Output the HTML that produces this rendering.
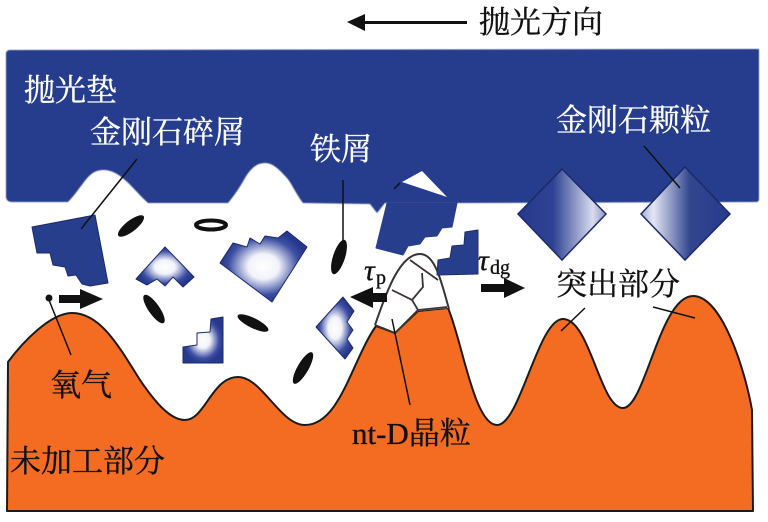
<!DOCTYPE html>
<html><head><meta charset="utf-8">
<style>
html,body{margin:0;padding:0;background:#fff}
svg{display:block}
text{font-family:"Liberation Serif","Noto Serif CJK SC",serif;font-size:31px;stroke-width:.35px}
</style></head><body>
<svg width="768" height="522" viewBox="0 0 768 522" xmlns="http://www.w3.org/2000/svg">
<defs>
<radialGradient id="g1"><stop offset="0" stop-color="#fff"/><stop offset=".35" stop-color="#f2f3fa"/><stop offset=".8" stop-color="#3d4fa3"/><stop offset="1" stop-color="#26398c"/></radialGradient>
<linearGradient id="gR" x1="0" x2="1" y1="0" y2="0"><stop offset="0" stop-color="#26398c"/><stop offset=".4" stop-color="#2f4292"/><stop offset=".85" stop-color="#d8dcee"/><stop offset="1" stop-color="#8b96c8"/></linearGradient>
<linearGradient id="gL" x1="0" x2="1" y1="0" y2="0"><stop offset="0" stop-color="#a9b1d6"/><stop offset=".14" stop-color="#e4e6f3"/><stop offset=".55" stop-color="#33468f"/><stop offset="1" stop-color="#26398c"/></linearGradient>
<filter id="b"><feGaussianBlur stdDeviation=".5"/></filter>
</defs>

<!-- polishing pad -->
<path filter="url(#b)" fill="#273e8d" d="M6 54Q6 50 10 50L759 49L759 199Q759 202 756 202L457 203L385 203L377 213L370 204L303 203C296 194 291 182 286 177C278 168 272 163 265 163C257 163 251 168 245 178C240 187 234 196 228 203L148 203C140 196 132 186 125 180C118 174 112 170 103 170C95 170 90 174 84 182C78 190 73 197 68 202L12 202Q6 202 6 196Z"/>
<path fill="#273e8d" stroke="#273e8d" stroke-width="1" stroke-linejoin="round" d="M387 203L457 203L452 227L442 228L437 236L425 237L420 244L408 246L403 255L376 248Z"/>
<path fill="#fff" d="M402 182L422 171L447 197Z"/>
<path stroke="#111" stroke-width="1.5" fill="none" d="M394 189L400 183"/>

<!-- orange workpiece -->
<path stroke="#1b1b1b" stroke-width="2" stroke-linejoin="round" fill="#f36c22" d="M8 362C22 343 50 313 72 313C100 313 118 345 140 380C155 402 170 420 185 420C205 420 212 377 238 377C262 377 280 425 305 425C340 425 352 360 376 326L395 333L418 311L448 308C462 340 474 425 497 425C520 425 538 319 563 319C590 319 600 408 623 408C645 408 660 296 693 296C722 296 745 370 752 410L753 511L7 511Z"/>

<!-- nt-D grains -->
<path fill="#fff" d="M376 326C384 300 398 254 420 254C436 254 442 285 448 308L418 311L396 333Z"/>
<g fill="none" stroke="#3a3434" stroke-width="1.8">
<path d="M375 325C384 300 398 254 420 254C436 254 442 285 449 309" stroke-width="2"/>
<path d="M410 260L438 280M392 290L412 300L418 310L447 307M412 300L423 287L422 273M375 325L395 333L418 310" />
</g>

<!-- diamond grains in pad -->
<path stroke="#1c2a6b" stroke-width="1.5" fill="url(#gR)" d="M562 169L606 214L562 260L518 214Z"/>
<path stroke="#1c2a6b" stroke-width="1.5" fill="url(#gL)" d="M685 167L730 214L685 260L641 214Z"/>

<!-- diamond debris -->
<path stroke="#1c2a6b" stroke-width="1" stroke-linejoin="round" fill="#273e8d" d="M32 227L95 215L108 283L90 286L82 284L76 275L68 276L65 267L53 265L50 253L37 253Z"/>
<path stroke="#1c2a6b" stroke-width="1" stroke-linejoin="round" fill="url(#g1)" d="M165 247L194 277L183 287L173 277L165 286L157 279L147 285L136 279Z"/>
<path stroke="#1c2a6b" stroke-width="1" stroke-linejoin="round" fill="url(#g1)" d="M287 231L307 247L272 302L220 263L233 243L247 247L250 238L260 244L265 236L278 238Z"/>
<path stroke="#1c2a6b" stroke-width="1" stroke-linejoin="round" fill="url(#g1)" d="M183 347L197 345V333L210 332L211 319L223 317V363H183Z"/>
<path stroke="#1c2a6b" stroke-width="1" stroke-linejoin="round" fill="url(#g1)" d="M343 297L354 311L347 322L353 330L347 339L353 348L345 359L316 327Z"/>
<path stroke="#1c2a6b" stroke-width="1" stroke-linejoin="round" fill="#273e8d" d="M437 275L438 260L450 258L452 246L464 245L465 232L478 230V274Z"/>

<!-- iron chips -->
<g fill="#111">
<ellipse cx="131" cy="226" rx="16" ry="5.5" transform="rotate(-38 131 226)"/>
<ellipse cx="154" cy="309" rx="17" ry="5.5" transform="rotate(55 154 309)"/>
<ellipse cx="253" cy="323" rx="17" ry="5" transform="rotate(26 253 323)"/>
<ellipse cx="303" cy="368" rx="18" ry="5.5" transform="rotate(-60 303 368)"/>
<ellipse cx="339" cy="257" rx="18" ry="6" transform="rotate(-72 339 257)"/>
</g>
<ellipse cx="211" cy="225" rx="15" ry="4.5" fill="#fff" stroke="#111" stroke-width="4"/>

<!-- leaders -->
<g stroke="#111" stroke-width="1.5" fill="none">
<path d="M81 229L137 159"/>
<path d="M343 180V242"/>
<path d="M644 146L680 188"/>
<path d="M49 300L71 355"/>
<path d="M392 319L410 405"/>
<path d="M561 331L585 308"/>
<path d="M653 307L695 318"/>
</g>
<circle cx="49" cy="298" r="3.5" fill="#111"/>

<!-- arrows -->
<path fill="#111" d="M59 295H80V289L103 299L80 309V303H59Z"/>
<path fill="#111" d="M350 297L373 287V293H387V302H373V308Z"/>
<path fill="#111" d="M481 284H504V278L525 288L504 298V292H481Z"/>
<path fill="#111" d="M347 22L365 14V21H467V24H365V31Z"/>

<!-- labels -->
<g fill="#111" stroke="#111">
<text x="479" y="33">抛光方向</text>
<text x="50" y="396">氧气</text>
<text x="10" y="472">未加工部分</text>
<text x="556" y="295">突出部分</text>
<text x="352" y="444">nt-D晶粒</text>
<text x="364" y="280" style="font-size:30px;font-style:italic">τ</text>
<text x="376" y="284" style="font-size:20px">p</text>
<text x="478" y="270" style="font-size:30px;font-style:italic">τ</text>
<text x="490" y="274" style="font-size:20px">dg</text>
</g>
<g fill="#fff" stroke="#fff">
<text x="24" y="101">抛光垫</text>
<text x="90" y="143">金刚石碎屑</text>
<text x="310" y="160">铁屑</text>
<text x="556" y="131">金刚石颗粒</text>
</g>
</svg>
</body></html>
